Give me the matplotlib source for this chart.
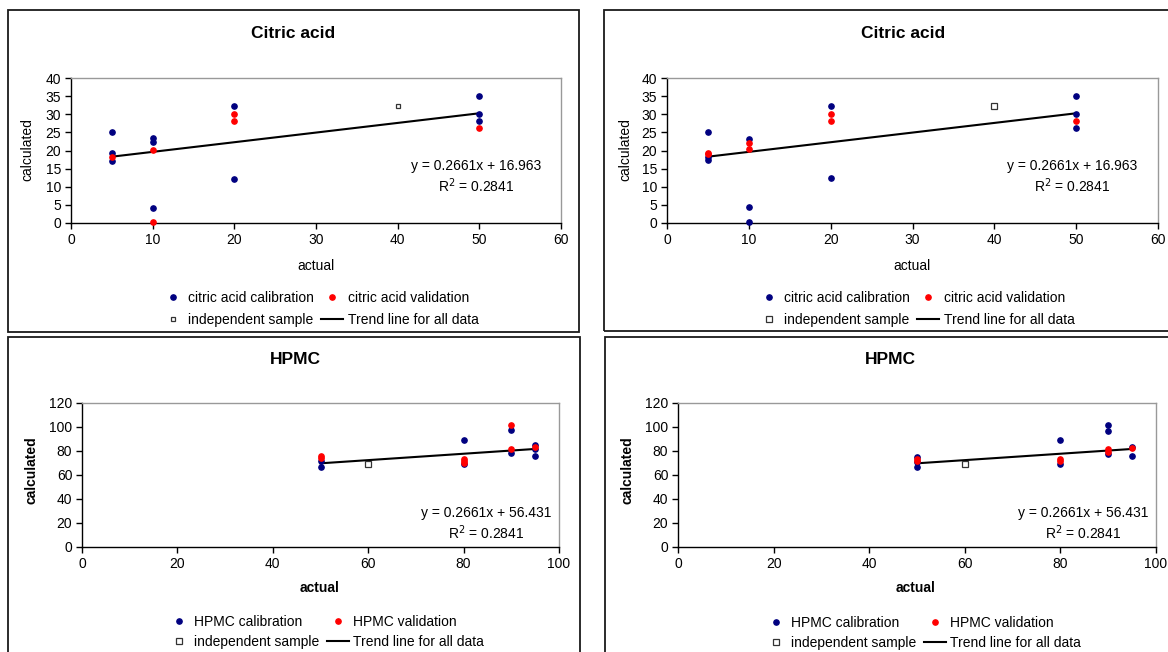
import numpy as np
import matplotlib
matplotlib.use("Agg")
import matplotlib.pyplot as plt
from matplotlib.patches import Rectangle
from matplotlib.lines import Line2D

plt.rcParams['font.family'] = ['Liberation Sans', 'DejaVu Sans']

# ---------------- data ----------------
# Citric acid, left panel
ca1_cal_x = [5, 5, 5, 10, 10, 10, 20, 20, 50, 50, 50]
ca1_cal_y = [25.2, 19.2, 17.2, 23.4, 22.3, 4.2, 32.2, 12.2, 35.1, 30.2, 28.1]
ca1_val_x = [5, 10, 10, 20, 20, 50]
ca1_val_y = [18.1, 20.1, 0.4, 30.2, 28.1, 26.2]
ca1_ind_x = [40]
ca1_ind_y = [32.2]

# Citric acid, right panel
ca2_cal_x = [5, 5, 5, 10, 10, 10, 20, 20, 50, 50, 50]
ca2_cal_y = [25.2, 18.3, 17.4, 23.1, 4.4, 0.4, 32.2, 12.4, 35.0, 30.2, 26.2]
ca2_val_x = [5, 5, 10, 10, 20, 20, 50]
ca2_val_y = [19.4, 19.0, 22.1, 20.3, 30.2, 28.1, 28.1]
ca2_ind_x = [40]
ca2_ind_y = [32.2]

ca_slope, ca_intercept, ca_r2 = 0.2661, 16.963, 0.2841
ca_trend_x = [5, 50]

# HPMC, left panel
hp1_cal_x = [50, 50, 80, 80, 90, 90, 95, 95, 95]
hp1_cal_y = [66.6, 71.6, 89.2, 69.4, 97.3, 78.3, 84.8, 81.7, 76.1]
hp1_val_x = [50, 50, 80, 80, 80, 90, 90, 95]
hp1_val_y = [75.5, 74.4, 73.6, 71.6, 70.2, 101.5, 81.4, 83.4]
hp1_ind_x = [60]
hp1_ind_y = [69.4]

# HPMC, right panel
hp2_cal_x = [50, 50, 50, 80, 80, 90, 90, 90, 95, 95]
hp2_cal_y = [75.3, 71.2, 66.4, 89.0, 68.9, 101.6, 96.8, 77.6, 83.7, 75.6]
hp2_val_x = [50, 50, 80, 80, 90, 90, 95]
hp2_val_y = [73.1, 72.0, 73.4, 71.7, 81.8, 79.5, 82.3]
hp2_ind_x = [60]
hp2_ind_y = [68.9]

hp_slope, hp_intercept, hp_r2 = 0.2661, 56.431, 0.2841
hp_trend_x = [50, 95]

W, H = 1168, 652
fig = plt.figure(figsize=(W / 100, H / 100), dpi=100)

def px_axes(l, r, t, b):
    return fig.add_axes([l / W, 1 - b / H, (r - l) / W, (b - t) / H])

def frame(l, t, r, b):
    fig.patches.append(Rectangle((l / W, 1 - b / H), (r - l) / W, (b - t) / H,
                                 transform=fig.transFigure, fill=False,
                                 edgecolor='#1a1a1a', linewidth=1.3))

NAVY = '#000080'
RED = '#FF0000'

def panel(box, frame_box, cal, val, ind, ind_ms, trend_x, slope, intercept, r2,
          xlim, xticks, ylim, yticks, title, title_xy, lab_bold, ylab_xy, xlab_xy,
          eq_x, eq_y, r2_y, legend_xy, names, lspace):
    frame(*frame_box)
    ax = px_axes(*box)
    ax.plot(cal[0], cal[1], 'o', color=NAVY, ms=3.8, mec=NAVY, zorder=3, clip_on=False)
    ax.plot(val[0], val[1], 'o', color=RED, ms=3.8, mec=RED, zorder=3, clip_on=False)
    ax.plot(ind[0], ind[1], 's', mfc='white', mec='#333333', ms=ind_ms, mew=0.9, zorder=3)
    tx = np.array(trend_x, dtype=float)
    ax.plot(tx, slope * tx + intercept, color='black', lw=1.5, zorder=2)
    ax.set_xlim(*xlim)
    ax.set_ylim(*ylim)
    ax.set_xticks(xticks)
    ax.set_yticks(yticks)
    ax.tick_params(direction='out', length=4, width=1, labelsize=10, pad=3, colors='black')
    for s in ['left', 'bottom']:
        ax.spines[s].set_color('black')
        ax.spines[s].set_linewidth(1)
    for s in ['top', 'right']:
        ax.spines[s].set_color('#999999')
        ax.spines[s].set_linewidth(1)
    fw = 'bold' if lab_bold else 'normal'
    fig.text(title_xy[0] / W, 1 - title_xy[1] / H, title, ha='center', va='center',
             fontsize=12.5, fontweight='bold')
    fig.text(ylab_xy[0] / W, 1 - ylab_xy[1] / H, 'calculated', ha='center', va='center',
             rotation=90, fontsize=10, fontweight=fw)
    fig.text(xlab_xy[0] / W, 1 - xlab_xy[1] / H, 'actual', ha='center', va='center',
             fontsize=10, fontweight=fw)
    ax.text(eq_x, eq_y, 'y = %.4fx + %.3f' % (slope, intercept), transform=ax.transAxes,
            ha='center', va='center', fontsize=10)
    ax.text(eq_x, r2_y, 'R$^2$ = %.4f' % r2, transform=ax.transAxes,
            ha='center', va='center', fontsize=10)
    handles = [
        Line2D([], [], ls='', marker='o', color=NAVY, ms=3.8),
        Line2D([], [], ls='', marker='s', mfc='white', mec='#333333', ms=ind_ms, mew=0.9),
        Line2D([], [], ls='', marker='o', color=RED, ms=3.8),
        Line2D([], [], color='black', lw=1.5),
    ]
    labels = [names[0], 'independent sample', names[1], 'Trend line for all data']
    fig.legend(handles, labels, ncol=2, loc='upper left',
               bbox_to_anchor=(legend_xy[0] / W, 1 - legend_xy[1] / H),
               frameon=False, fontsize=10, handlelength=1.6, handletextpad=0.3,
               columnspacing=0.5, labelspacing=lspace, borderpad=0, borderaxespad=0)
    return ax

panel((71, 561, 78, 223), (8, 10, 579, 332),
      (ca1_cal_x, ca1_cal_y), (ca1_val_x, ca1_val_y), (ca1_ind_x, ca1_ind_y), 2.8,
      ca_trend_x, ca_slope, ca_intercept, ca_r2,
      (0, 60), [0, 10, 20, 30, 40, 50, 60], (0, 40), [0, 5, 10, 15, 20, 25, 30, 35, 40],
      'Citric acid', (293, 34), False, (27, 150), (316, 266),
      0.826, 0.393, 0.255, (162, 291),
      ('citric acid calibration', 'citric acid validation'), 0.6)

panel((667, 1158, 78, 223), (604, 10, 1175, 331),
      (ca2_cal_x, ca2_cal_y), (ca2_val_x, ca2_val_y), (ca2_ind_x, ca2_ind_y), 4.5,
      ca_trend_x, ca_slope, ca_intercept, ca_r2,
      (0, 60), [0, 10, 20, 30, 40, 50, 60], (0, 40), [0, 5, 10, 15, 20, 25, 30, 35, 40],
      'Citric acid', (903, 34), False, (625, 150), (912, 266),
      0.826, 0.393, 0.255, (758, 291),
      ('citric acid calibration', 'citric acid validation'), 0.6)

panel((82, 559, 403, 547), (8, 337, 580, 660),
      (hp1_cal_x, hp1_cal_y), (hp1_val_x, hp1_val_y), (hp1_ind_x, hp1_ind_y), 3.8,
      hp_trend_x, hp_slope, hp_intercept, hp_r2,
      (0, 100), [0, 20, 40, 60, 80, 100], (0, 120), [0, 20, 40, 60, 80, 100, 120],
      'HPMC', (295, 360), True, (32, 470), (320, 588),
      0.847, 0.236, 0.097, (168, 615),
      ('HPMC calibration', 'HPMC validation'), 0.45)

panel((678, 1156, 403, 547), (605, 337, 1175, 660),
      (hp2_cal_x, hp2_cal_y), (hp2_val_x, hp2_val_y), (hp2_ind_x, hp2_ind_y), 3.8,
      hp_trend_x, hp_slope, hp_intercept, hp_r2,
      (0, 100), [0, 20, 40, 60, 80, 100], (0, 120), [0, 20, 40, 60, 80, 100, 120],
      'HPMC', (890, 360), True, (627, 470), (916, 588),
      0.847, 0.236, 0.097, (765, 616),
      ('HPMC calibration', 'HPMC validation'), 0.45)

fig.savefig('out.png', dpi=100)
